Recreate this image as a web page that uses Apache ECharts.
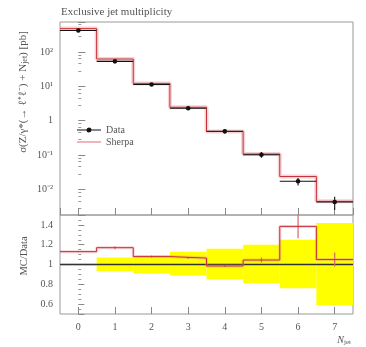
<!DOCTYPE html>
<html>
<head>
<meta charset="utf-8">
<script src="https://cdn.jsdelivr.net/npm/echarts@6/dist/echarts.min.js"></script>
<style>
  html, body { margin: 0; padding: 0; background: #fff; }
  #chart { width: 366px; height: 347px; }
</style>
</head>
<body>
<div id="chart"></div>
<script>
// jet multiplicity bins
const bins = [0, 1, 2, 3, 4, 5, 6, 7];
const dataXsec = [420, 53, 11.2, 2.3, 0.49, 0.102, 0.0172, 0.0043];
const sherpaXsec = [475, 62, 12.1, 2.45, 0.483, 0.107, 0.0237, 0.0045];
// MC/Data ratio panel
const ratio = [1.13, 1.17, 1.08, 1.065, 0.985, 1.045, 1.385, 1.05];
const ratioErr = [0.005, 0.015, 0.01, 0.01, 0.01, 0.025, 0.12, 0.07];
const bandLo = [0.99, 0.935, 0.91, 0.89, 0.85, 0.81, 0.76, 0.59];
const bandHi = [1.01, 1.07, 1.09, 1.13, 1.16, 1.2, 1.25, 1.42];

const FONT = 'Liberation Serif';
const RED = '#c8323a';
const PINK = 'rgba(230,140,145,0.4)';

const sup = { '-': '⁻', '1': '¹', '2': '²', '3': '³' };
function logLabel(v) {
  const l = Math.log10(v);
  const e = Math.round(l);
  if (Math.abs(l - e) > 1e-6) return '';
  if (e === 0) return '1';
  return '10' + String(e).split('').map(c => sup[c]).join('');
}

// step series: left edge of each bin, plus final right edge
const stepData = (vals) => bins.map((b, i) => [b - 0.5, vals[i]]).concat([[bins[bins.length - 1] + 0.5, vals[vals.length - 1]]]);

const chart = echarts.init(document.getElementById('chart'));

const axisTxt = { fontFamily: FONT, fontSize: 10, color: '#555' };

chart.setOption({
  animation: false,
  title: {
    text: 'Exclusive jet multiplicity',
    left: 56, top: 2,
    textStyle: { fontFamily: FONT, fontSize: 11, fontWeight: 'normal', color: '#555' }
  },
  legend: {
    orient: 'vertical', left: 72, top: 120, itemWidth: 24, itemHeight: 6, itemGap: 2,
    textStyle: { fontFamily: FONT, fontSize: 10, color: '#555' },
    data: [
      { name: 'Data', icon: 'path://M0,2.4 L24,2.4 L24,3.6 L0,3.6 Z M12,0.5 A2.5,2.5 0 1 1 11.99,0.5 Z', itemStyle: { color: '#111' } },
      { name: 'Sherpa', icon: 'path://M0,2.2 L24,2.2 L24,3.8 L0,3.8 Z', itemStyle: { color: '#eba4a8' } }
    ]
  },
  grid: [
    { left: 60, right: 13, top: 22, height: 193, show: true, borderColor: '#999', borderWidth: 1 },
    { left: 60, right: 13, top: 215, height: 99, show: true, borderColor: '#999', borderWidth: 1 }
  ],
  xAxis: [
    {
      gridIndex: 0, type: 'value', min: -0.5, max: 7.5, splitNumber: 8,
      axisLine: { show: false }, splitLine: { show: false },
      axisTick: { inside: true, length: 7, lineStyle: { color: '#888' } },
      axisLabel: { show: false }
    },
    {
      gridIndex: 1, type: 'value', min: -0.5, max: 7.5, splitNumber: 8,
      axisLine: { show: false }, splitLine: { show: false },
      axisTick: { inside: true, length: 7, lineStyle: { color: '#888' } },
      axisLabel: { ...axisTxt, margin: 8, showMinLabel: false, showMaxLabel: false,
        formatter: v => Number.isInteger(v) ? String(v) : '' }
    }
  ],
  yAxis: [
    {
      gridIndex: 0, type: 'log', min: 0.0018, max: 740,
      axisLine: { show: false }, splitLine: { show: false },
      axisTick: { inside: true, length: 7, lineStyle: { color: '#888' } },
      minorTick: { show: true, splitNumber: 5, length: 3, lineStyle: { color: '#999' } },
      axisLabel: { ...axisTxt, margin: 7, showMinLabel: false, showMaxLabel: false, formatter: logLabel }
    },
    {
      gridIndex: 1, type: 'value', min: 0.5, max: 1.5,
      axisLine: { show: false }, splitLine: { show: false },
      axisTick: { inside: true, length: 6, lineStyle: { color: '#888' } },
      minorTick: { show: true, splitNumber: 4, length: 3, lineStyle: { color: '#999' } },
      axisLabel: { ...axisTxt, margin: 7, showMinLabel: false, showMaxLabel: false,
        formatter: v => (Math.abs(v - 1) < 1e-9 ? '1' : v.toFixed(1)) }
    }
  ],
  graphic: [
    {
      type: 'text', x: 23, y: 92, rotation: Math.PI / 2,
      style: {
        text: 'σ(Z/γ*(→ ℓ⁺ℓ⁻) + N{s|jet}) [pb]',
        font: '11px "Liberation Serif"', fill: '#555', align: 'center', verticalAlign: 'middle',
        rich: { s: { fontSize: 8, fontFamily: FONT, fill: '#555', padding: [4, 0, 0, 0] } }
      }
    },
    {
      type: 'text', x: 24, y: 256, rotation: Math.PI / 2,
      style: { text: 'MC/Data', font: '10.5px "Liberation Serif"', fill: '#555', align: 'center', verticalAlign: 'middle' }
    },
    {
      type: 'text', x: 351, y: 340,
      style: {
        text: 'N{s|jet}', font: 'italic 10px "Liberation Serif"', fill: '#555', align: 'right', verticalAlign: 'middle',
        rich: { s: { fontSize: 7, fontFamily: FONT, fill: '#555', padding: [4, 0, 0, 0] } }
      }
    }
  ],
  series: [
    // main panel: Sherpa halo + line
    {
      type: 'line', xAxisIndex: 0, yAxisIndex: 0, step: 'end', symbol: 'none', silent: true,
      data: stepData(sherpaXsec), lineStyle: { color: PINK, width: 4 }, z: 2
    },
    {
      name: 'Sherpa', type: 'line', xAxisIndex: 0, yAxisIndex: 0, step: 'end', symbol: 'none',
      data: stepData(sherpaXsec), lineStyle: { color: RED, width: 1 }, z: 3
    },
    // main panel: data points with bin-width bars and errors
    {
      name: 'Data', type: 'custom', xAxisIndex: 0, yAxisIndex: 0, clip: true, z: 4,
      itemStyle: { color: '#111' },
      data: bins.map((b, i) => [b, dataXsec[i], dataXsec[i] * bandLo[i], dataXsec[i] * bandHi[i]]),
      renderItem: (params, api) => {
        const x = api.value(0), y = api.value(1);
        const pL = api.coord([x - 0.5, y]), pR = api.coord([x + 0.5, y]);
        const pT = api.coord([x, api.value(3)]), pB = api.coord([x, api.value(2)]);
        const c = api.coord([x, y]);
        const st = { stroke: '#111', lineWidth: 1.1 };
        return {
          type: 'group', children: [
            { type: 'line', shape: { x1: pL[0], y1: pL[1], x2: pR[0], y2: pR[1] }, style: st },
            { type: 'line', shape: { x1: pT[0], y1: pT[1], x2: pB[0], y2: pB[1] }, style: st },
            { type: 'circle', shape: { cx: c[0], cy: c[1], r: 2.3 }, style: { fill: '#111' } }
          ]
        };
      }
    },
    // ratio panel: data uncertainty band
    {
      type: 'custom', xAxisIndex: 1, yAxisIndex: 1, clip: true, z: 1, silent: true,
      data: bins.map((b, i) => [b, bandLo[i], bandHi[i]]),
      renderItem: (params, api) => {
        const x = api.value(0);
        const a = api.coord([x - 0.5, api.value(2)]), b = api.coord([x + 0.5, api.value(1)]);
        return { type: 'rect', shape: { x: a[0], y: a[1], width: b[0] - a[0], height: b[1] - a[1] }, style: { fill: '#ffff00' } };
      }
    },
    {
      type: 'line', xAxisIndex: 1, yAxisIndex: 1, step: 'end', symbol: 'none', silent: true,
      data: stepData(bins.map(() => 1)), lineStyle: { color: '#333', width: 1.4 }, z: 2
    },
    {
      type: 'line', xAxisIndex: 1, yAxisIndex: 1, step: 'end', symbol: 'none', silent: true,
      data: stepData(ratio), lineStyle: { color: PINK, width: 3 }, z: 3
    },
    {
      type: 'line', xAxisIndex: 1, yAxisIndex: 1, step: 'end', symbol: 'none', silent: true,
      data: stepData(ratio), lineStyle: { color: RED, width: 1 }, z: 4
    },
    {
      type: 'custom', xAxisIndex: 1, yAxisIndex: 1, clip: true, z: 4, silent: true,
      data: bins.map((b, i) => [b, ratio[i] - ratioErr[i], ratio[i] + ratioErr[i]]),
      renderItem: (params, api) => {
        const x = api.value(0);
        const t = api.coord([x, api.value(2)]), d = api.coord([x, api.value(1)]);
        return { type: 'line', shape: { x1: t[0], y1: t[1], x2: d[0], y2: d[1] }, style: { stroke: '#d9646a', lineWidth: 1.2 } };
      }
    }
  ]
});
</script>
</body>
</html>
